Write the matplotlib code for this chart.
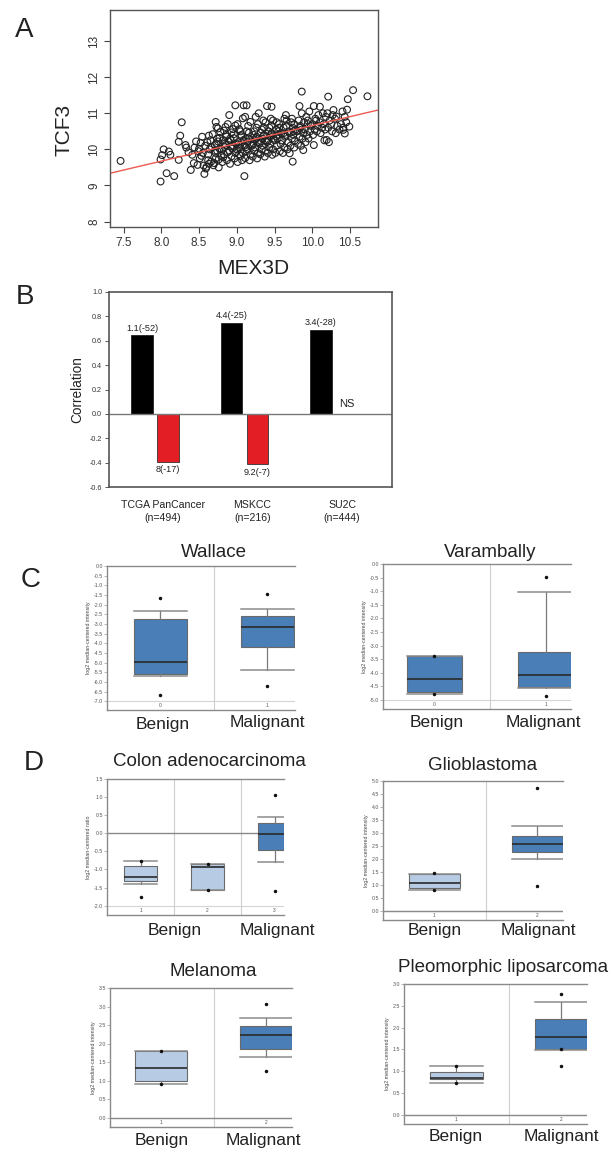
import numpy as np
import matplotlib
matplotlib.use("Agg")
import matplotlib.pyplot as plt

plt.rcParams['font.family'] = ['Liberation Sans', 'DejaVu Sans']
plt.rcParams['axes.unicode_minus'] = False

# ---------------- data ----------------
# A: MEX3D vs TCF3
scatter_pts = [
    (7.46, 9.68), (7.99, 9.11), (8.07, 9.34), (8.17, 9.26), (8.27, 10.75), (8.25, 10.38),
    (8.03, 10.0), (7.99, 9.72), (8.10, 9.94), (8.12, 9.85), (8.23, 9.71), (8.39, 9.43),
    (8.48, 9.57), (8.57, 9.32), (8.98, 11.22), (9.09, 11.22), (9.13, 11.22), (9.40, 11.20),
    (9.46, 11.18), (8.90, 10.95), (9.10, 9.26), (9.86, 11.60), (10.21, 11.46), (10.54, 11.64),
    (10.73, 11.47), (10.47, 11.39), (10.49, 10.63), (10.41, 10.54), (10.43, 10.44), (10.02, 10.12),
    (9.74, 9.66), (10.19, 10.26), (9.70, 9.89), (9.88, 9.98), (10.10, 11.18), (10.28, 11.09),
    (10.32, 10.91), (9.29, 11.00), (8.23, 10.21), (8.32, 10.12), (8.01, 9.84),
    (8.41, 9.85), (8.44, 10.05), (8.43, 9.62), (8.46, 10.22), (8.33, 10.05), (8.36, 9.92),
    (8.49, 9.95), (8.52, 10.18), (8.51, 9.75), (8.54, 10.35), (8.56, 9.55), (8.53, 9.82),
    (8.50, 10.02), (8.58, 10.1), (8.55, 9.9),
    (8.59, 9.47), (8.62, 9.7), (8.61, 10.2), (8.63, 10.38), (8.64, 10.0), (8.60, 9.52),
    (8.66, 9.66), (8.62, 9.86), (8.67, 10.06), (8.65, 10.25), (8.68, 10.42), (8.63, 9.6),
    (8.69, 9.56), (8.72, 9.75), (8.71, 9.96), (8.73, 10.15), (8.74, 10.3), (8.70, 9.62),
    (8.76, 9.72), (8.72, 9.9), (8.77, 10.02), (8.75, 10.22), (8.78, 10.48), (8.73, 10.62),
    (8.76, 9.5), (8.79, 9.82), (8.74, 9.96), (8.71, 10.12), (8.77, 10.32), (8.75, 10.58),
    (8.72, 10.76),
    (8.81, 9.65), (8.83, 9.86), (8.80, 10.0), (8.84, 10.16), (8.82, 10.26), (8.86, 10.4),
    (8.85, 10.62), (8.87, 9.7), (8.88, 9.92), (8.84, 10.06), (8.89, 10.22), (8.86, 10.36),
    (8.83, 10.52), (8.88, 10.7), (8.82, 9.78), (8.85, 10.12),
    (8.91, 9.6), (8.93, 9.81), (8.90, 9.96), (8.94, 10.1), (8.92, 10.26), (8.96, 10.42),
    (8.95, 10.56), (8.91, 10.3), (8.97, 9.75), (8.98, 9.9), (8.94, 10.02), (8.99, 10.16),
    (8.96, 10.31), (8.93, 10.47), (8.98, 10.66), (8.92, 10.08),
    (9.01, 9.65), (9.03, 9.86), (9.00, 10.0), (9.04, 10.1), (9.02, 10.2), (9.06, 10.36),
    (9.05, 10.5), (9.01, 10.7), (9.07, 9.7), (9.08, 9.9), (9.04, 10.05), (9.09, 10.26),
    (9.06, 10.4), (9.03, 10.56), (9.08, 10.86), (9.02, 10.14), (9.05, 9.82),
    (9.11, 9.76), (9.13, 9.95), (9.10, 10.1), (9.14, 10.2), (9.12, 10.3), (9.16, 10.46),
    (9.15, 10.65), (9.11, 10.9), (9.17, 9.7), (9.18, 9.86), (9.14, 10.0), (9.19, 10.15),
    (9.16, 10.3), (9.13, 10.5), (9.18, 10.76), (9.12, 10.06), (9.15, 10.22),
    (9.21, 9.8), (9.23, 9.96), (9.20, 10.1), (9.24, 10.26), (9.22, 10.4), (9.26, 10.6),
    (9.25, 10.9), (9.27, 9.75), (9.28, 9.9), (9.24, 10.05), (9.29, 10.2), (9.26, 10.35),
    (9.23, 10.5), (9.28, 10.7), (9.22, 10.16), (9.25, 10.3),
    (9.31, 9.86), (9.33, 10.0), (9.30, 10.15), (9.34, 10.3), (9.32, 10.46), (9.36, 10.6),
    (9.35, 10.8), (9.37, 9.8), (9.38, 9.96), (9.34, 10.1), (9.39, 10.25), (9.36, 10.4),
    (9.33, 10.55), (9.38, 10.75), (9.32, 10.22), (9.35, 10.36),
    (9.41, 9.9), (9.43, 10.05), (9.40, 10.2), (9.44, 10.36), (9.42, 10.5), (9.46, 10.65),
    (9.45, 10.85), (9.47, 9.85), (9.48, 10.0), (9.44, 10.15), (9.49, 10.3), (9.46, 10.45),
    (9.43, 10.6), (9.48, 10.8), (9.42, 10.26), (9.45, 10.4),
    (9.51, 9.9), (9.53, 10.1), (9.50, 10.25), (9.54, 10.4), (9.52, 10.55), (9.56, 10.7),
    (9.57, 9.95), (9.58, 10.15), (9.54, 10.3), (9.59, 10.45), (9.56, 10.6), (9.53, 10.75),
    (9.52, 10.36), (9.55, 10.5),
    (9.61, 9.9), (9.63, 10.05), (9.60, 10.25), (9.64, 10.4), (9.62, 10.6), (9.66, 10.8),
    (9.65, 10.95), (9.67, 10.0), (9.68, 10.2), (9.64, 10.35), (9.69, 10.5), (9.66, 10.65),
    (9.63, 10.85), (9.62, 10.45),
    (9.71, 10.1), (9.73, 10.3), (9.70, 10.45), (9.74, 10.6), (9.72, 10.75), (9.76, 10.05),
    (9.77, 10.25), (9.75, 10.4), (9.78, 10.55), (9.76, 10.7), (9.73, 10.85), (9.75, 10.5),
    (9.81, 10.15), (9.83, 10.35), (9.80, 10.5), (9.84, 10.65), (9.82, 10.8), (9.86, 11.0),
    (9.85, 10.1), (9.87, 10.3), (9.88, 10.45), (9.84, 10.6), (9.89, 10.75), (9.83, 11.2),
    (9.86, 10.55),
    (9.91, 10.2), (9.93, 10.4), (9.90, 10.55), (9.94, 10.7), (9.92, 10.9), (9.96, 11.05),
    (9.95, 10.3), (9.97, 10.5), (9.98, 10.65), (9.94, 10.8),
    (10.01, 10.4), (10.03, 10.55), (10.00, 10.7), (10.04, 10.85), (10.02, 11.2), (10.06, 10.5),
    (10.07, 10.65), (10.05, 10.8), (10.08, 10.95),
    (10.11, 10.45), (10.13, 10.6), (10.10, 10.75), (10.14, 11.0), (10.16, 10.25), (10.17, 10.55),
    (10.15, 10.7), (10.18, 10.9),
    (10.21, 10.6), (10.23, 10.8), (10.20, 11.0), (10.26, 10.5), (10.25, 10.7), (10.27, 10.95),
    (10.22, 10.2), (10.31, 10.45), (10.33, 10.65), (10.30, 10.85), (10.36, 10.55),
    (10.41, 10.6), (10.43, 10.9), (10.40, 11.05), (10.45, 10.75), (10.46, 11.1), (10.38, 10.7),
]
fit_intercept = 5.73
fit_slope = 0.493

# B: correlation per cohort
cohorts = ['TCGA PanCancer\n(n=494)', 'MSKCC\n(n=216)', 'SU2C\n(n=444)']
pos_corr = [0.646, 0.747, 0.692]
neg_corr = [-0.393, -0.412]
pos_labels = ['1.1(-52)', '4.4(-25)', '3.4(-28)']
neg_labels = ['8(-17)', '9.2(-7)']

# C / D: box stats rows = [whislo, q1, med, q3, whishi]; dots = extreme points
wallace_box = [[-5.69, -5.59, -4.99, -2.74, -2.32], [-5.40, -4.18, -3.18, -2.60, -2.20]]
wallace_dots = [[-1.68, -6.66], [-1.44, -6.21]]
varambally_box = [[-4.77, -4.69, -4.24, -3.39, -3.39], [-4.57, -4.53, -4.07, -3.25, -1.02]]
varambally_dots = [[-3.40, -4.77], [-0.47, -4.84]]
colon_box = [[-1.41, -1.31, -1.21, -0.90, -0.78], [-1.57, -1.57, -0.92, -0.85, -0.85],
             [-0.80, -0.46, -0.03, 0.28, 0.46]]
colon_dots = [[-0.78, -1.75], [-0.85, -1.57], [1.05, -1.60]]
glio_box = [[0.81, 0.87, 1.06, 1.42, 1.42], [2.00, 2.26, 2.56, 2.89, 3.25]]
glio_dots = [[1.44, 0.81], [4.73, 0.96]]
mela_box = [[0.92, 1.01, 1.35, 1.80, 1.80], [1.65, 1.86, 2.24, 2.48, 2.68]]
mela_dots = [[1.80, 0.93], [3.07, 1.28]]
pleo_box = [[0.73, 0.82, 0.84, 0.98, 1.11], [1.49, 1.52, 1.78, 2.20, 2.59]]
pleo_dots = [[1.12, 0.74], [2.78, 1.50, 1.11]]

LIGHT = '#b7cce4'
DARK = '#4a7eb6'

W, H = 613, 1153
fig = plt.figure(figsize=(W / 100, H / 100), dpi=100)


def px_axes(x0, y0, x1, y1):
    return fig.add_axes([x0 / W, 1 - y1 / H, (x1 - x0) / W, (y1 - y0) / H])


def ftext(x, y, s, **kw):
    fig.text(x / W, 1 - y / H, s, ha='center', va='center', **kw)


# ---------------- A ----------------
pts = np.array(scatter_pts)
ax = px_axes(110, 10, 378, 227)
ax.scatter(pts[:, 0], pts[:, 1], s=24, facecolors='none', edgecolors='#222', linewidths=0.8)
ax.axline((0, fit_intercept), slope=fit_slope, color='#ec5a50', lw=1)
ax.set_xlim(7.32, 10.87)
ax.set_ylim(7.85, 13.86)
ax.set_xticks([7.5, 8.0, 8.5, 9.0, 9.5, 10.0, 10.5])
ax.set_yticks([8, 9, 10, 11, 12, 13])
ax.tick_params(length=4, width=0.8, color='#444', labelsize=8.5, labelcolor='#333', pad=3)
for t in ax.get_yticklabels():
    t.set_rotation(90)
    t.set_va('center')
for s in ax.spines.values():
    s.set_color('#555')
    s.set_linewidth(1)
ftext(253, 268, 'MEX3D', fontsize=15, color='#222')
ftext(64, 130, 'TCF3', fontsize=15, color='#222', rotation=90)
ftext(24, 30, 'A', fontsize=20, color='#222')

# ---------------- B ----------------
ax = px_axes(109, 292, 392, 487)
idx = np.arange(len(cohorts))
ax.bar(idx - 0.145, pos_corr, width=0.24, color='black', edgecolor='#222', lw=0.6)
ax.bar(idx[:len(neg_corr)] + 0.145, neg_corr, width=0.24, color='#e31e24', edgecolor='#333', lw=0.6)
for i, v in enumerate(pos_corr):
    ax.text(i - 0.145, v + 0.02, pos_labels[i], ha='center', va='bottom', fontsize=6.6, color='#222')
for i, v in enumerate(neg_corr):
    ax.text(i + 0.145, v - 0.03, neg_labels[i], ha='center', va='top', fontsize=6.6, color='#222')
ax.text(2 + 0.145, 0.08, 'NS', ha='center', va='center', fontsize=8, color='#222')
ax.axhline(0, color='#777', lw=1)
ax.set_xlim(-0.514, 2.648)
ax.set_ylim(-0.6, 1.0)
ax.set_yticks(np.round(np.arange(-0.6, 1.01, 0.2), 1))
ax.yaxis.set_major_formatter(matplotlib.ticker.FormatStrFormatter('%.1f'))
ax.set_xticks(idx + 0.09)
ax.set_xticklabels(cohorts, fontsize=7.6, color='#222', linespacing=1.4)
ax.tick_params(axis='x', length=0, pad=9)
ax.tick_params(axis='y', length=3, width=0.7, color='#555', labelsize=5.2, labelcolor='#333', pad=2)
for s in ax.spines.values():
    s.set_color('#555')
    s.set_linewidth(1.2)
ftext(77, 390, 'Correlation', fontsize=9.8, color='#222', rotation=90)
ftext(25, 297, 'B', fontsize=20, color='#222')


# ---------------- C / D ----------------
def onco_box(rect, box, dots, colors, ylim, yticks, xlim, cats, ylabel):
    ax = px_axes(*rect)
    stats = [dict(whislo=b[0], q1=b[1], med=b[2], q3=b[3], whishi=b[4], fliers=d)
             for b, d in zip(box, dots)]
    n = len(stats)
    for i in range(n - 1):
        ax.axvline(i + 0.5, color='#cfcfcf', lw=0.8, zorder=0)
    ax.axhline(yticks[0], color='#d4d4d4', lw=0.8, zorder=0)
    if ylim[0] < 0 < ylim[1]:
        ax.axhline(0, color='#8a8a8a', lw=1.0, zorder=1)
    bp = ax.bxp(stats, positions=range(n), widths=0.5, capwidths=0.5, patch_artist=True,
                boxprops=dict(edgecolor='#6a6a6a', linewidth=0.8),
                medianprops=dict(color='#2a2a2a', linewidth=1.2),
                whiskerprops=dict(color='#7a7a7a', linewidth=0.9),
                capprops=dict(color='#8c8c8c', linewidth=1.1),
                flierprops=dict(marker='o', markersize=1.5, markerfacecolor='#111',
                                markeredgecolor='#111', zorder=5))
    for patch, c in zip(bp['boxes'], colors):
        patch.set_facecolor(c)
    ax.set_xlim(*xlim)
    ax.set_ylim(*ylim)
    ax.set_yticks(yticks)
    ax.yaxis.set_major_formatter(matplotlib.ticker.FormatStrFormatter('%.1f'))
    ax.set_xticks([])
    ax.tick_params(axis='y', length=2, width=0.5, color='#999', labelsize=3.8,
                   labelcolor='#555', pad=1)
    ax.spines['right'].set_visible(False)
    for k in ['left', 'bottom', 'top']:
        ax.spines[k].set_color('#8a8a8a')
        ax.spines[k].set_linewidth(1.0)
    ylab_y = (ylim[0] + yticks[0]) / 2
    for i, c in enumerate(cats):
        ax.text(i, ylab_y, c, ha='center', va='center', fontsize=3.5, color='#555')
    ax.set_ylabel(ylabel, fontsize=3.8, color='#444', labelpad=2)
    return ax


intensity = 'log2 median-centered intensity'

onco_box((107, 566, 295, 710), wallace_box, wallace_dots, [DARK, DARK], (-7.45, 0.0),
         np.round(np.arange(-7.0, 0.01, 0.5), 1), (-0.5, 1.26), ['0', '1'], intensity)
ftext(214, 552, 'Wallace', fontsize=13.5, color='#222')
ftext(163, 724, 'Benign', fontsize=12.5, color='#222')
ftext(267, 722, 'Malignant', fontsize=12.5, color='#222')

onco_box((383, 564, 571, 709), varambally_box, varambally_dots, [DARK, DARK], (-5.33, 0.0),
         np.round(np.arange(-5.0, 0.01, 0.5), 1), (-0.46, 1.22), ['0', '1'], intensity)
ftext(490, 552, 'Varambally', fontsize=13.5, color='#222')
ftext(437, 723, 'Benign', fontsize=12.5, color='#222')
ftext(543, 723, 'Malignant', fontsize=12.5, color='#222')

ftext(31, 580, 'C', fontsize=20, color='#222')

onco_box((107, 779, 284, 915), colon_box, colon_dots, [LIGHT, LIGHT, DARK], (-2.26, 1.5),
         np.round(np.arange(-2.0, 1.51, 0.5), 1), (-0.5, 2.14), ['1', '2', '3'],
         'log2 median-centered ratio')
ftext(209, 762, 'Colon adenocarcinoma', fontsize=13.5, color='#222')
ftext(175, 931, 'Benign', fontsize=12.5, color='#222')
ftext(277, 931, 'Malignant', fontsize=12.5, color='#222')

onco_box((383, 781, 563, 920), glio_box, glio_dots, [LIGHT, DARK], (-0.35, 5.0),
         np.round(np.arange(0.0, 5.01, 0.5), 1), (-0.5, 1.25), ['1', '2'], intensity)
ftext(483, 765, 'Glioblastoma', fontsize=13.5, color='#222')
ftext(435, 931, 'Benign', fontsize=12.5, color='#222')
ftext(538, 931, 'Malignant', fontsize=12.5, color='#222')

onco_box((110, 988, 292, 1127), mela_box, mela_dots, [LIGHT, DARK], (-0.24, 3.5),
         np.round(np.arange(0.0, 3.51, 0.5), 1), (-0.49, 1.25), ['1', '2'], intensity)
ftext(213, 972, 'Melanoma', fontsize=13.5, color='#222')
ftext(162, 1140, 'Benign', fontsize=12.5, color='#222')
ftext(263, 1140, 'Malignant', fontsize=12.5, color='#222')

onco_box((404, 984, 587, 1124), pleo_box, pleo_dots, [LIGHT, DARK], (-0.21, 3.0),
         np.round(np.arange(0.0, 3.01, 0.5), 1), (-0.5, 1.244), ['1', '2'], intensity)
ftext(503, 968, 'Pleomorphic liposarcoma', fontsize=13.5, color='#222')
ftext(456, 1136, 'Benign', fontsize=12.5, color='#222')
ftext(561, 1136, 'Malignant', fontsize=12.5, color='#222')

ftext(34, 763, 'D', fontsize=20, color='#222')

fig.savefig('out.png', dpi=100, facecolor='white')
